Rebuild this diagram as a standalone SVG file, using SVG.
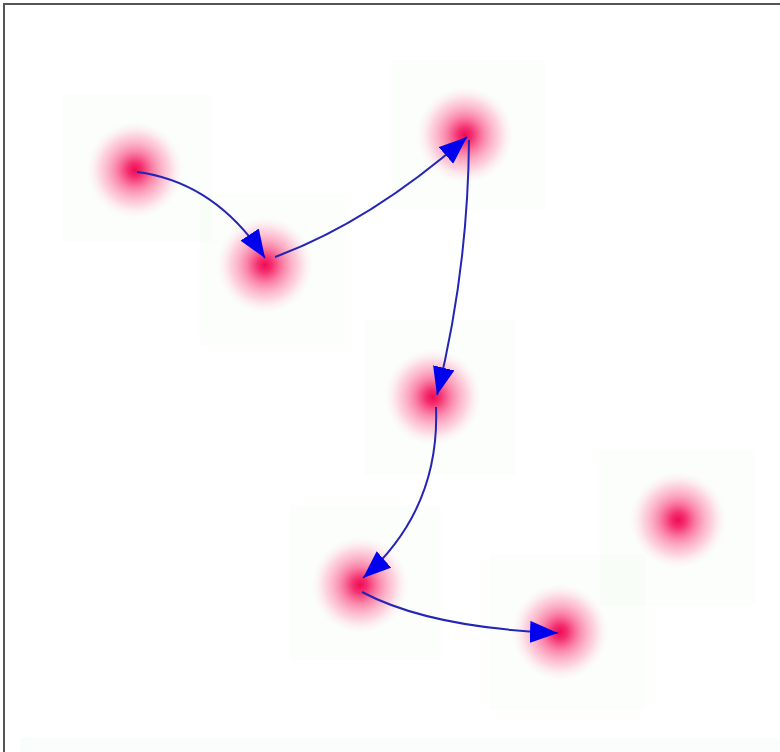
<svg xmlns="http://www.w3.org/2000/svg" width="780" height="752" viewBox="0 0 780 752">
<defs>
<radialGradient id="glow">
<stop offset="0" stop-color="#f00a55" stop-opacity="1"/>
<stop offset="0.15" stop-color="#f31860" stop-opacity="0.9"/>
<stop offset="0.4" stop-color="#fa3c78" stop-opacity="0.6"/>
<stop offset="0.72" stop-color="#ff7aa4" stop-opacity="0.32"/>
<stop offset="1" stop-color="#ffd0e0" stop-opacity="0"/>
</radialGradient>
<marker id="ah" markerUnits="userSpaceOnUse" markerWidth="30" markerHeight="22" refX="28" refY="11" orient="auto">
<path d="M0,0 L28,11 L0,22 z" fill="#0000ee"/>
</marker>
<style>
.bg{fill:#f3fbf3;opacity:0.3}
.g{fill:url(#glow)}
.c{fill:none;stroke:#2525b5;stroke-width:2;marker-end:url(#ah)}
</style>
</defs>
<rect width="780" height="752" fill="#ffffff"/>
<rect x="4" y="4" width="790" height="760" fill="none" stroke="#555555" stroke-width="2"/>
<rect x="20" y="738" width="760" height="14" fill="#f4fcfa" opacity="0.5"/>
<g id="n1"><rect class="bg" x="62" y="95" width="150" height="147"/><circle class="g" cx="135" cy="170" r="48"/></g>
<g id="n2"><rect class="bg" x="200" y="195" width="145" height="150"/><circle class="g" cx="265" cy="265" r="48"/></g>
<g id="n3"><rect class="bg" x="392" y="60" width="153" height="150"/><circle class="g" cx="465" cy="135" r="48"/></g>
<g id="n4"><rect class="bg" x="365" y="320" width="150" height="155"/><circle class="g" cx="433" cy="397" r="48"/></g>
<g id="n5"><rect class="bg" x="600" y="450" width="155" height="155"/><circle class="g" cx="678" cy="520" r="48"/></g>
<g id="n6"><rect class="bg" x="290" y="505" width="150" height="155"/><circle class="g" cx="360" cy="585" r="48"/></g>
<g id="n7"><rect class="bg" x="490" y="555" width="155" height="155"/><circle class="g" cx="560" cy="632" r="48"/></g>
<g id="connectors">
<path class="c" d="M137,172 Q215,182 265,258"/>
<path class="c" d="M275,257 Q370,222 467,137"/>
<path class="c" d="M469,140 Q468,270 437,395"/>
<path class="c" d="M436,407 Q440,510 363,578"/>
<path class="c" d="M362,592 Q430,628 558,633"/>
</g>
</svg>
